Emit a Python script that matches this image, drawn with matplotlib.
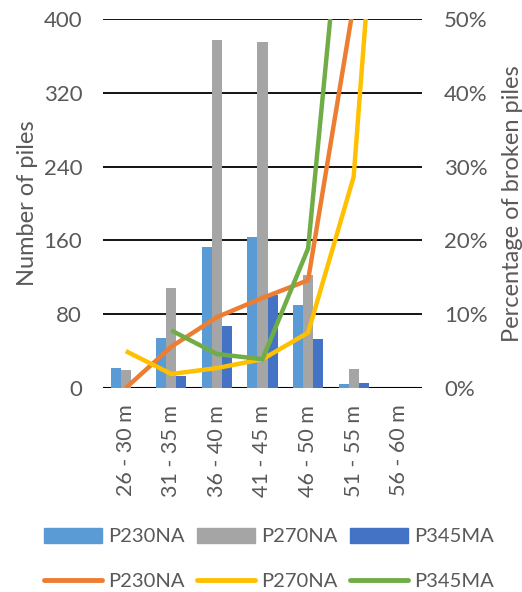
import matplotlib.pyplot as plt
from matplotlib.ticker import FuncFormatter
from matplotlib.patches import Patch
from matplotlib.lines import Line2D
import numpy as np

plt.rcParams['font.family'] = ['Lato', 'DejaVu Sans']

# categories (pile length)
categories = ['26 - 30 m', '31 - 35 m', '36 - 40 m', '41 - 45 m',
              '46 - 50 m', '51 - 55 m', '56 - 60 m']

# number of piles (left axis)
n_p230 = [22, 54, 153, 164, 90, 4, 0]
n_p270 = [19, 108, 377, 375, 122, 21, 0]
n_p345 = [0, 13, 67, 101, 53, 5, 0]

# percentage of broken piles (right axis), None = no value
pct_p230 = [0.0, 5.6, 9.6, 12.2, 14.6, 52, None]
pct_p270 = [5.0, 1.9, 2.7, 3.9, 7.5, 28.6, 110]
pct_p345 = [None, 7.8, 4.6, 3.9, 18.9, 83, None]

c_bar = ['#5B9BD5', '#A5A5A5', '#4472C4']
c_line = ['#ED7D31', '#FFC000', '#70AD47']
grey = '#595959'

fig = plt.figure(figsize=(5.22, 5.92), dpi=100)
ax = fig.add_axes([103/522, 1-388/592, (422-103)/522, (388-19)/592])
ax2 = ax.twinx()

x = np.arange(len(categories))
w = 0.22
b1 = ax.bar(x - w, n_p230, w, color=c_bar[0], zorder=3)
b2 = ax.bar(x, n_p270, w, color=c_bar[1], zorder=3)
b3 = ax.bar(x + w, n_p345, w, color=c_bar[2], zorder=3)

def to_arr(v):
    return np.array([np.nan if a is None else a / 100 for a in v])

for vals, col in zip([pct_p230, pct_p270, pct_p345], c_line):
    ax2.plot(x, to_arr(vals), color=col, lw=3.2, solid_capstyle='butt',
             solid_joinstyle='miter', zorder=4)

ax.set_xlim(-0.5, len(categories) - 0.5)
ax.set_ylim(0, 400)
ax.set_yticks(range(0, 401, 80))
ax2.set_ylim(0, 0.5)
ax2.set_yticks(np.arange(0, 0.51, 0.1))
ax2.yaxis.set_major_formatter(FuncFormatter(lambda v, p: f'{v*100:.0f}%'))

ax.grid(axis='y', color='black', lw=1.3, zorder=0)
ax.set_axisbelow(True)
for a in (ax, ax2):
    for s in ['top', 'left', 'right', 'bottom']:
        a.spines[s].set_visible(False)
ax.axhline(0, color='black', lw=1.5, zorder=2)

ax.set_xticks(x)
ax.set_xticklabels(categories, rotation=90, fontsize=15.5, color=grey)
ax.tick_params(axis='y', length=0, labelsize=16, colors=grey, pad=15)
ax.tick_params(axis='x', length=0, colors=grey, pad=12)
ax2.tick_params(axis='y', length=0, labelsize=16, colors=grey, pad=16)

ax.set_ylabel('Number of piles', fontsize=17, color=grey, labelpad=4)
ax2.set_ylabel('Percentage of broken piles', fontsize=17, color=grey, labelpad=10)

handles = [Patch(color=c_bar[0]), Line2D([], [], color=c_line[0], lw=3.5, solid_capstyle='round'),
           Patch(color=c_bar[1]), Line2D([], [], color=c_line[1], lw=3.5, solid_capstyle='round'),
           Patch(color=c_bar[2]), Line2D([], [], color=c_line[2], lw=3.5, solid_capstyle='round')]
labels = ['P230NA', 'P230NA', 'P270NA', 'P270NA', 'P345MA', 'P345MA']
fig.legend(handles, labels, ncol=3, loc='center', bbox_to_anchor=(0.515, 1 - 559/592),
           frameon=False, fontsize=14.5, labelcolor=grey, handlelength=2.9,
           handleheight=0.75, handletextpad=0.3, columnspacing=0.6, labelspacing=1.35)

fig.savefig('out.png', dpi=100)
